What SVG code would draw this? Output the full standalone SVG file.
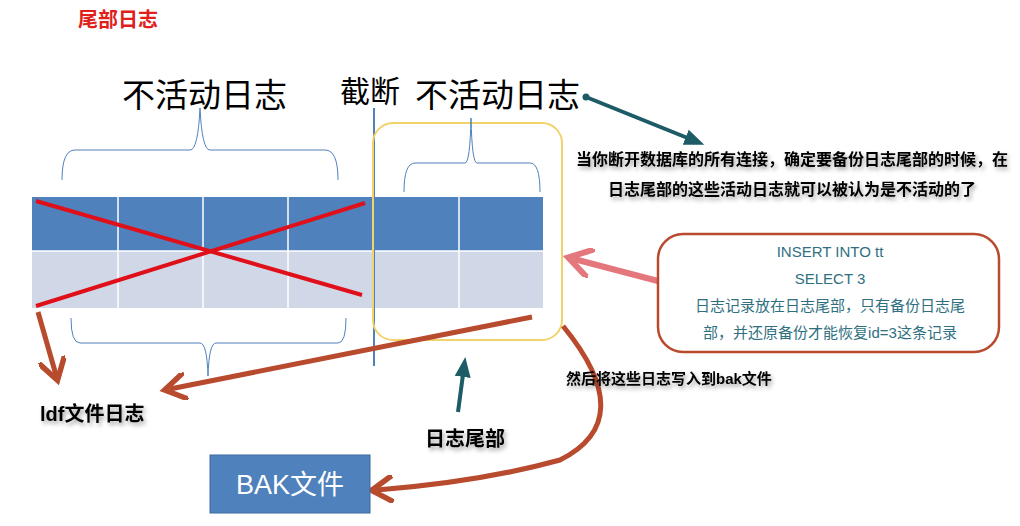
<svg xmlns="http://www.w3.org/2000/svg" width="1020" height="526" viewBox="0 0 1020 526">
<style>
.cjk{font-family:"Liberation Sans","Noto Sans CJK SC",sans-serif}
.big{font-size:33px;fill:#000}
.bold{font-weight:bold;fill:#000}
.brace{fill:none;stroke:#4f81bd;stroke-width:1}
.grid{stroke:#fff;stroke-width:1.5}
.sh{filter:url(#sh)}
</style>
<defs>
<filter id="sh" x="-10%" y="-30%" width="120%" height="160%"><feDropShadow dx="2" dy="3" stdDeviation="2" flood-color="#000" flood-opacity="0.35"/></filter>
<marker id="ab" viewBox="0 0 10 10" refX="6" refY="5" markerWidth="5.5" markerHeight="5.5" orient="auto"><path d="M0,0 L8,5 L0,10" fill="none" stroke="#b84a2e" stroke-width="2"/></marker>
<marker id="ap" viewBox="0 0 10 10" refX="6" refY="5" markerWidth="5" markerHeight="5" orient="auto"><path d="M0,0 L8,5 L0,10" fill="none" stroke="#e4777b" stroke-width="2"/></marker>
<marker id="at" viewBox="0 0 10 10" refX="5" refY="5" markerWidth="5" markerHeight="5" orient="auto"><path d="M0,1 L10,5 L0,9 z" fill="#1d5c66"/></marker>
</defs>
<rect width="1020" height="526" fill="#fff"/>
<text x="78" y="27" class="cjk" font-size="20" font-weight="bold" fill="#e0201a">尾部日志</text>
<g id="table">
<rect x="32" y="197" width="511" height="54" fill="#4f81bd"/>
<rect x="32" y="251" width="511" height="57" fill="#d0d8e8"/>
<line class="grid" x1="32" y1="251" x2="543" y2="251"/>
<line class="grid" x1="118" y1="197" x2="118" y2="308"/>
<line class="grid" x1="203" y1="197" x2="203" y2="308"/>
<line class="grid" x1="288" y1="197" x2="288" y2="308"/>
<line class="grid" x1="459" y1="197" x2="459" y2="308"/>
<line x1="36" y1="201" x2="362" y2="295" stroke="#e0101a" stroke-width="4"/>
<line x1="36" y1="306" x2="365" y2="203" stroke="#e0101a" stroke-width="4"/>
</g>
<line x1="374" y1="108" x2="374" y2="366" stroke="#4f81bd" stroke-width="2"/>
<g id="tail"><rect x="373" y="123" width="189" height="217" rx="20" fill="none" stroke="#f2d36b" stroke-width="2"/></g>
<g id="braces">
<path class="brace" d="M62,180 Q62,150 75,150 L190,150 Q198,150 200,108 Q202,150 210,150 L325,150 Q338,150 338,180"/>
<path class="brace" d="M404,192 Q404,163 415,163 L465,163 Q470,163 471,118 Q472,163 477,163 L530,163 Q540,163 540,192"/>
<path class="brace" d="M71,318 Q71,343 80,343 L200,343 Q207,343 208,376 Q209,343 216,343 L338,343 Q346,343 346,318"/>
</g>
<text x="122" y="107" class="cjk big">不活动日志</text>
<text x="340" y="102" class="cjk" font-size="30">截断</text>
<text x="415" y="107" class="cjk big">不活动日志</text>
<g id="connectors">
<line x1="586" y1="97" x2="695" y2="141" stroke="#1d5c66" stroke-width="4" marker-end="url(#at)"/>
<circle cx="586" cy="97" r="3.5" fill="#1d5c66"/>
<line x1="696" y1="291" x2="574" y2="259" stroke="#e4777b" stroke-width="6" marker-end="url(#ap)"/>
<line x1="38" y1="312" x2="56" y2="375" stroke="#b84a2e" stroke-width="5" marker-end="url(#ab)"/>
<line x1="532" y1="317" x2="170" y2="389" stroke="#b84a2e" stroke-width="5" marker-end="url(#ab)"/>
<path d="M563,326 Q640,420 560,460 Q480,482 377,490" fill="none" stroke="#b84a2e" stroke-width="5" marker-end="url(#ab)"/>
<line x1="458" y1="412" x2="464" y2="367" stroke="#1d5c66" stroke-width="4" marker-end="url(#at)"/>
</g>
<g id="note1" class="sh">
<text x="792" y="165" class="cjk bold" font-size="16" text-anchor="middle">当你断开数据库的所有连接，确定要备份日志尾部的时候，在</text>
<text x="792" y="195" class="cjk bold" font-size="16" text-anchor="middle">日志尾部的这些活动日志就可以被认为是不活动的了</text>
</g>
<g id="note2">
<rect x="658" y="234" width="341" height="118" rx="25" fill="#fff" stroke="#b84a2e" stroke-width="2.5"/>
<g class="cjk" font-size="15" fill="#2f6f80" text-anchor="middle">
<text x="830" y="257">INSERT INTO tt</text>
<text x="830" y="284">SELECT 3</text>
<text x="830" y="311">日志记录放在日志尾部，只有备份日志尾</text>
<text x="830" y="338">部，并还原备份才能恢复id=3这条记录</text>
</g>
</g>
<text x="566" y="384" class="cjk bold sh" font-size="15">然后将这些日志写入到bak文件</text>
<text x="40" y="421" class="cjk bold sh" font-size="20">ldf文件日志</text>
<text x="425" y="446" class="cjk bold sh" font-size="20">日志尾部</text>
<g id="bak">
<rect x="210" y="455" width="160" height="58" fill="#4f81bd" stroke="#3b6aa0"/>
<text x="290" y="494" class="cjk" font-size="27" fill="#fff" text-anchor="middle">BAK文件</text>
</g>
</svg>
